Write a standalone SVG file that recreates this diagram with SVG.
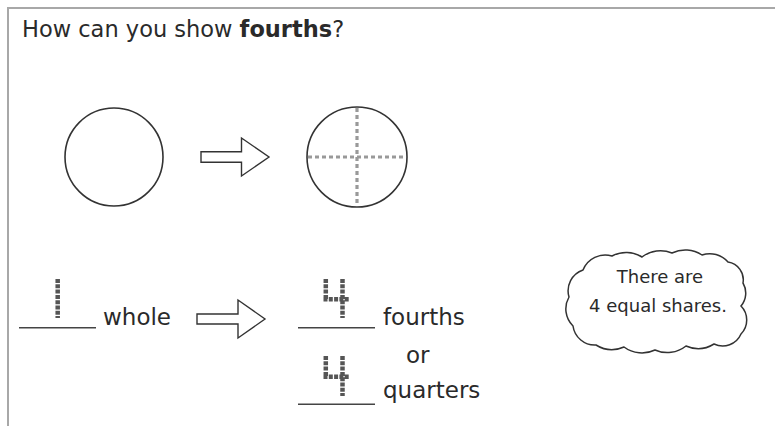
<svg xmlns="http://www.w3.org/2000/svg" width="775" height="426" viewBox="0 0 775 426">
<style>
.t{font-family:"DejaVu Sans","Liberation Sans",sans-serif;fill:#2a2a2a}
.circ{fill:none;stroke:#333;stroke-width:1.6}
.div{stroke:#999;stroke-width:3.2;stroke-dasharray:4 3}
.dot{fill:none;stroke:#555;stroke-width:4.5;stroke-dasharray:4 1.3}
.blank{stroke:#444;stroke-width:1.4}
.arr{fill:#fff;stroke:#333;stroke-width:1.4;stroke-linejoin:miter}
.cloud{fill:#fff;stroke:#333;stroke-width:1.5}
</style>
<rect width="775" height="426" fill="#fff"/>
<g id="frame"><path d="M8 426 V8 H775" fill="none" stroke="#a8a8a8" stroke-width="2"/></g>
<g id="title"><text class="t" x="22" y="37" font-size="22.5">How can you show <tspan font-weight="bold">fourths</tspan>?</text></g>
<g id="whole-circle"><circle class="circ" cx="114" cy="157" r="49"/></g>
<g id="fourths-circle"><circle class="circ" cx="357" cy="157" r="50"/>
<line class="div" x1="308" y1="157" x2="406" y2="157"/>
<line class="div" x1="357" y1="108" x2="357" y2="206"/></g>
<g id="connectors">
<polygon class="arr" points="201,151.7 241.5,151.7 241.5,138 269,157 241.5,176 241.5,162.3 201,162.3"/>
<polygon class="arr" points="197,314 238,314 238,300 265,319 238,338 238,324 197,324"/>
</g>
<g id="one-whole">
<line class="dot" x1="57.7" y1="279" x2="57.7" y2="318"/>
<line class="blank" x1="19" y1="327.7" x2="96" y2="327.7"/>
<text class="t" x="103" y="325" font-size="23">whole</text>
</g>
<g id="four-fourths">
<path class="dot" d="M325.8 279 V299.3 M323.5 299.3 H350 M342.5 279 V318"/>
<line class="blank" x1="298" y1="327.7" x2="375" y2="327.7"/>
<text class="t" x="383" y="325" font-size="23">fourths</text>
</g>
<g id="or"><text class="t" x="406" y="363" font-size="23">or</text></g>
<g id="four-quarters">
<path class="dot" d="M325.8 356 V376.7 M323.5 376.7 H350 M342.5 356 V396"/>
<line class="blank" x1="298" y1="404.3" x2="375" y2="404.3"/>
<text class="t" x="383" y="398" font-size="23">quarters</text>
</g>
<g id="cloud-note">
<path class="cloud" d="M583 270 A24 24 0 0 1 612 256 A30 30 0 0 1 642 257 A30 30 0 0 1 672 253 A30 30 0 0 1 702 255 A24 24 0 0 1 728 262 A18 18 0 0 1 743 283 A20 20 0 0 1 741 306 A20 20 0 0 1 741 334 A20 20 0 0 1 714 344 A30 30 0 0 1 686 346 A30 30 0 0 1 655 350 A30 30 0 0 1 624 347 A30 30 0 0 1 596 345 A22 22 0 0 1 573 326 A24 24 0 0 1 569 297 A22 22 0 0 1 583 270 Z"/>
<text class="t" x="660" y="283" font-size="18" text-anchor="middle">There are</text>
<text class="t" x="658" y="311.5" font-size="18" text-anchor="middle">4 equal shares.</text>
</g>
</svg>
